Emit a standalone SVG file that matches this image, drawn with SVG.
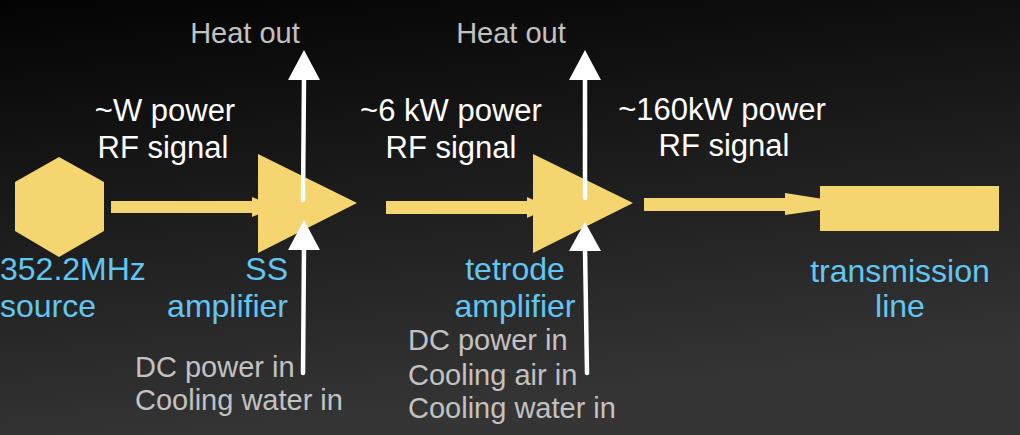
<svg xmlns="http://www.w3.org/2000/svg" width="1020" height="435" viewBox="0 0 1020 435">
<defs>
<linearGradient id="bg" x1="0" y1="0" x2="0.25" y2="1">
<stop offset="0" stop-color="#030303"/>
<stop offset="0.5" stop-color="#1c1c1c"/>
<stop offset="1" stop-color="#353535"/>
</linearGradient>
<style>
.y{fill:#f4d56f}
.w{fill:#ffffff}
.wl{stroke:#ffffff;stroke-width:4.5;stroke-linecap:round;fill:none}
text{font-family:"Liberation Sans",Arial,sans-serif}
.lw{fill:#ffffff;font-size:31px;text-anchor:middle}
.lb{fill:#62c6f2;font-size:32px}
.lg{fill:#c2c2c2;font-size:29px}
</style>
</defs>
<rect width="1020" height="435" fill="url(#bg)"/>
<g id="connectors">
<g id="rf1"><rect class="y" x="111" y="201" width="147" height="12"/><polygon class="y" points="252,197 275,207 252,217"/></g>
<g id="rf2"><rect class="y" x="386" y="201" width="147" height="13"/><polygon class="y" points="527,197 550,207.5 527,218"/></g>
<g id="rf3"><rect class="y" x="644" y="198" width="142" height="13"/><polygon class="y" points="785,193 858,204.5 785,215"/></g>
</g>
<g id="source"><polygon class="y" points="59,157 104,182 104,231 59,257 15,231 15,182"/>
<text class="lb" x="0" y="280">352.2MHz</text><text class="lb" x="0" y="317">source</text></g>
<g id="ss-amplifier"><polygon class="y" points="258,154 357,203 258,253"/>
<text class="lb" x="288" y="280" text-anchor="end">SS</text><text class="lb" x="288" y="317" text-anchor="end">amplifier</text></g>
<g id="tetrode-amplifier"><polygon class="y" points="533,154 633,203 533,253"/>
<text class="lb" x="515" y="280" text-anchor="middle">tetrode</text><text class="lb" x="515" y="317" text-anchor="middle">amplifier</text></g>
<g id="transmission-line"><rect class="y" x="820" y="186" width="179" height="45"/>
<text class="lb" x="900" y="282" text-anchor="middle">transmission</text><text class="lb" x="900" y="317" text-anchor="middle">line</text></g>
<g id="heat-connectors">
<line class="wl" x1="303" y1="200" x2="304" y2="78"/><polygon class="w" points="304,50 320,80 288,80"/>
<line class="wl" x1="303" y1="373" x2="304" y2="248"/><polygon class="w" points="304,220 320,250 288,250"/>
<line class="wl" x1="585" y1="198" x2="585" y2="78"/><polygon class="w" points="585,50 601,80 569,80"/>
<line class="wl" x1="587" y1="373" x2="585" y2="248"/><polygon class="w" points="585,222 601,251 569,251"/>
</g>
<g id="labels">
<text class="lw" x="165" y="121">~W power</text><text class="lw" x="163" y="158">RF signal</text>
<text class="lw" x="451" y="121">~6 kW power</text><text class="lw" x="451" y="158">RF signal</text>
<text class="lw" x="722" y="120">~160kW power</text><text class="lw" x="724" y="156">RF signal</text>
<text class="lg" x="245" y="43" text-anchor="middle">Heat out</text>
<text class="lg" x="511" y="43" text-anchor="middle">Heat out</text>
<text class="lg" x="135" y="377">DC power in</text><text class="lg" x="135" y="410">Cooling water in</text>
<text class="lg" x="408" y="350">DC power in</text><text class="lg" x="408" y="385">Cooling air in</text><text class="lg" x="408" y="418">Cooling water in</text>
</g>
</svg>
